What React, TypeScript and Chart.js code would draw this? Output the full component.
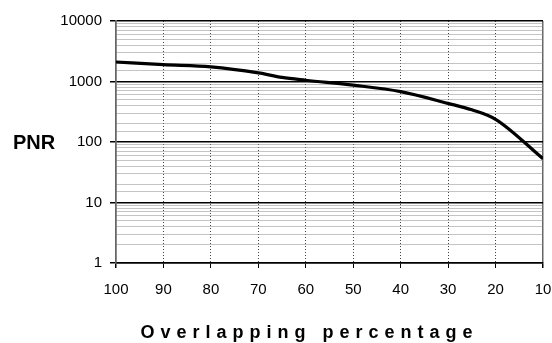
import React, { useEffect, useRef } from "react";
import { Chart, registerables } from "chart.js";

Chart.register(...registerables);

const overlap = [100, 90, 80, 70, 65, 60, 50, 40, 30, 25, 20, 10];
const pnr = [2100, 1900, 1750, 1390, 1170, 1050, 870, 680, 435, 340, 237, 53];
const xTicks = [100, 90, 80, 70, 60, 50, 40, 30, 20, 10];
const yMajor = [1, 10, 100, 1000, 10000];

const yTitle = "PNR";
const xTitle = "Overlapping percentage";

const FONT = "'Liberation Sans', Arial, sans-serif";

const isMajor = (v: number) => yMajor.includes(v);

const titlePlugin = {
  id: "titles",
  afterDraw(chart: any) {
    const ctx = chart.ctx;
    ctx.save();
    ctx.fillStyle = "#000";
    ctx.font = `bold 20px ${FONT}`;
    ctx.textAlign = "center";
    ctx.textBaseline = "middle";
    const yScale = chart.scales.y;
    ctx.fillText(yTitle, 34, yScale.getPixelForValue(100) + 1);
    ctx.font = `bold 18px ${FONT}`;
    const spacing = 6;
    (ctx as any).letterSpacing = `${spacing}px`;
    ctx.textAlign = "center";
    ctx.textBaseline = "alphabetic";
    ctx.fillText(xTitle, 306.5 + spacing / 2, 338);
    ctx.restore();
  },
};

export default function App() {
  const ref = useRef<HTMLCanvasElement>(null);
  useEffect(() => {
    if (!ref.current) return;
    const chart = new Chart(ref.current, {
      type: "line",
      data: {
        datasets: [
          {
            data: overlap.map((x, i) => ({ x, y: pnr[i] })),
            borderColor: "#000",
            borderWidth: 3.2,
            pointRadius: 0,
            fill: false,
            cubicInterpolationMode: "monotone",
          },
        ],
      },
      options: {
        responsive: false,
        animation: false,
        layout: { padding: { top: 21, right: 9, left: 0, bottom: 0 } },
        plugins: {
          legend: { display: false },
          tooltip: { enabled: false },
          title: { display: false },
        },
        scales: {
          x: {
            type: "linear",
            reverse: true,
            min: 10,
            max: 100,
            afterBuildTicks: (scale: any) => {
              scale.ticks = xTicks.map((v) => ({ value: v }));
            },
            afterFit: (scale: any) => {
              scale.height = 80;
              scale.paddingLeft = 0;
              scale.paddingRight = 0;
            },
            ticks: {
              autoSkip: false,
              maxRotation: 0,
              padding: 13,
              color: "#000",
              font: { family: FONT, size: 15 },
            },
            grid: {
              color: (c: any) =>
                c.tick && (c.tick.value === 100 || c.tick.value === 10) ? "#666" : "#444",
              lineWidth: (c: any) =>
                c.tick && (c.tick.value === 100 || c.tick.value === 10) ? 1.5 : 1,
              tickColor: "#000",
              tickLength: 5,
              tickBorderDash: [],
            },
            border: {
              display: true,
              color: "#000",
              width: 1.5,
              dash: (c: any) =>
                c.tick && (c.tick.value === 100 || c.tick.value === 10) ? [] : [1, 2],
            },
          },
          y: {
            type: "logarithmic",
            min: 1,
            max: 10000,
            afterFit: (scale: any) => {
              scale.width = 116;
            },
            ticks: {
              autoSkip: false,
              padding: 8,
              color: "#000",
              font: { family: FONT, size: 15 },
              callback: (v: any) => (isMajor(Number(v)) ? String(v) : ""),
            },
            grid: {
              color: (c: any) => (c.tick && isMajor(c.tick.value) ? "#000" : "#888"),
              lineWidth: (c: any) => (c.tick && isMajor(c.tick.value) ? 1.5 : 1),
              tickColor: (c: any) => (c.tick && isMajor(c.tick.value) ? "#000" : "rgba(0,0,0,0)"),
              tickLength: 6,
              tickBorderDash: [],
            },
            border: {
              display: true,
              color: "#666",
              width: 1.5,
              dash: (c: any) => (c.tick && isMajor(c.tick.value) ? [] : [1, 1]),
            },
          },
        },
      },
      plugins: [titlePlugin],
    });
    return () => chart.destroy();
  }, []);
  return (
    <div style={{ position: "fixed", left: 0, top: 0, width: 552, height: 343, background: "#fff" }}>
      <canvas ref={ref} width={552} height={343} style={{ display: "block" }} />
    </div>
  );
}
